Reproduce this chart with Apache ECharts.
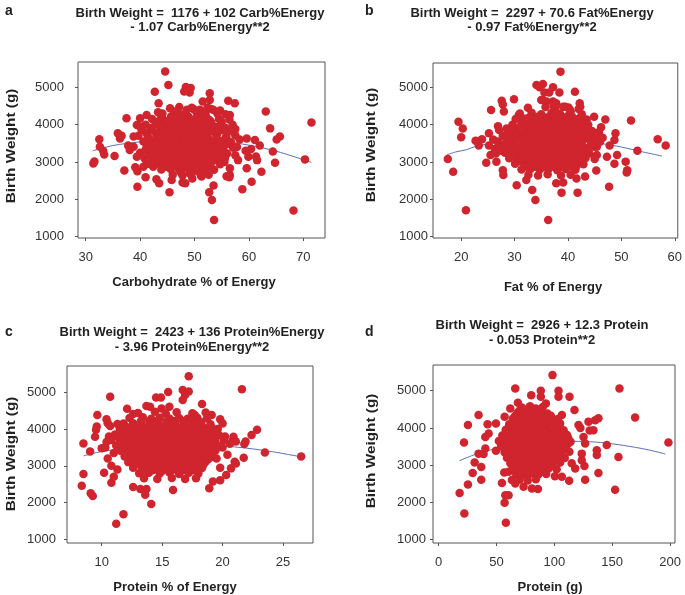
<!DOCTYPE html>
<html>
<head>
<meta charset="utf-8">
<script src="https://cdn.jsdelivr.net/npm/echarts@6/dist/echarts.min.js"></script>
<style>
  html, body { margin: 0; padding: 0; background: #fff; }
  #chart { width: 685px; height: 595px; }
</style>
</head>
<body>
<div id="chart"></div>
<script>
// ---- panel a: carbohydrate % of energy vs birth weight ----
const carbPoints = [
  [44.6,5420],[45.2,5060],[42.7,4880],[48.4,5010],[49.3,4980],[48.1,4890],[49.1,4860],[48.7,4950],
  [51.5,4620],[52.8,4840],[52.8,4660],[56.2,4640],[57.4,4570],[43.4,4570],[37.5,4170],[63.1,4350],
  [63.9,3900],[71.5,4060],[65.7,3680],[65.1,3600],[70.3,3070],[68.2,1700],[53.6,1450],[53.2,1980],
  [52.7,2190],[53.5,2370],[45.4,2190],[39.5,2340],[58.8,2270],[60.5,2470],[62.3,2740],[64.8,2980],
  [64.4,3280],[62.0,3440],[61.1,3590],[59.6,3630],[59.6,2830],[56.5,2650],[56.4,2590],[31.4,2960],
  [31.6,3010],[32.5,3610],[32.6,3410],[33.2,3300],[33.4,3200],[35.3,3160],[35.9,3770],[36.3,3630],
  [36.6,3700],[37.1,2770],[37.8,3440],[38.1,3320],[38.8,3680],[39.1,2860],[39.5,2750],[41.0,2590],
  [43.0,2540],[43.5,2430],[45.8,2520],[47.8,2450],[48.3,2430],[49.6,2560],[51.3,2610],[55.9,2620],
  [40.0,4170],[41.2,4260],[39.4,3990],[43.3,4330],[49.5,4450],[51.0,4400],[53.5,4390],[54.7,4380],
  [56.5,4260],[57.5,3880],[58.3,3600],[57.8,3400],[59.4,3300],[60.4,3350],[61.3,3150],[61.5,3050],
  [57.5,3180],[58.0,3050],[59.9,3140],[56.5,2830],[55.5,3000],[52.5,2870],[40.0,3950],[38.8,3410],
  [39.4,3140],[40.6,2870],[41.2,2960],[42.4,2870],[42.1,3230],
  [45.5,4440],[47.2,4470],[49.8,4420],[52.4,4460],[53.1,4420],
  [44.1,4300],[46.3,4320],[48.0,4280],[50.6,4310],[52.0,4290],[54.2,4300],[55.7,4280],
  [42.2,4150],[43.8,4160],[45.6,4130],[47.4,4170],[49.3,4140],[51.0,4160],[52.7,4130],[54.5,4150],[56.4,4140],
  [41.0,4000],[42.9,4010],[44.6,3990],[46.2,4020],[47.9,3980],[49.5,4010],[51.2,3990],[52.9,4020],[54.8,3990],[57.0,4000],
  [40.3,3850],[42.0,3860],[43.7,3840],[45.3,3870],[46.8,3830],[48.4,3860],[50.0,3840],[51.6,3870],[53.3,3840],[55.1,3860],[56.6,3830],
  [39.7,3700],[41.4,3710],[43.0,3690],[44.6,3720],[46.1,3680],[47.6,3710],[49.1,3690],[50.7,3720],[52.3,3690],[54.0,3710],[55.8,3680],[57.5,3710],
  [40.6,3550],[42.3,3560],[43.9,3540],[45.4,3570],[46.9,3530],[48.5,3560],[50.1,3540],[51.7,3570],[53.2,3540],[54.9,3560],[56.7,3530],
  [41.2,3400],[42.8,3410],[44.3,3390],[45.8,3420],[47.3,3380],[48.8,3410],[50.4,3390],[51.9,3420],[53.6,3390],[55.3,3410],[57.1,3380],
  [40.0,3250],[41.7,3260],[43.4,3240],[45.0,3270],[46.5,3230],[48.1,3260],[49.7,3240],[51.3,3270],[52.8,3240],[54.4,3260],[56.0,3230],
  [40.8,3100],[42.5,3110],[44.2,3090],[45.9,3120],[47.5,3080],[49.0,3110],[50.6,3090],[52.2,3120],[53.9,3090],[55.6,3110],
  [41.6,2950],[43.3,2960],[45.1,2940],[46.7,2970],[48.3,2930],[49.9,2960],[51.5,2940],[53.0,2970],[54.7,2940],
  [43.9,2800],[45.6,2810],[47.2,2790],[48.9,2820],[50.4,2780],[52.0,2810],[53.6,2790],
  [46.0,2660],[47.8,2640],[49.4,2670],[51.2,2640],[52.6,2660],
  [43.0,4070],[44.7,4080],[46.4,4060],[48.1,4090],[49.8,4070],[51.4,4080],[53.1,4060],[55.0,4080],
  [42.1,3920],[43.8,3930],[45.5,3910],[47.1,3940],[48.8,3920],[50.4,3930],[52.1,3910],[53.8,3940],[55.6,3920],
  [41.2,3770],[42.9,3780],[44.5,3760],[46.0,3790],[47.6,3770],[49.2,3780],[50.8,3760],[52.4,3790],[54.2,3770],[56.0,3780],
  [41.5,3620],[43.2,3630],[44.8,3610],[46.3,3640],[47.8,3620],[49.3,3630],[50.9,3610],[52.5,3640],[54.1,3620],[55.9,3630],
  [42.0,3470],[43.6,3480],[45.1,3460],[46.6,3490],[48.1,3470],[49.6,3480],[51.1,3460],[52.7,3490],[54.4,3470],[56.2,3480],
  [41.0,3320],[42.6,3330],[44.2,3310],[45.7,3340],[47.2,3320],[48.8,3330],[50.4,3310],[52.0,3340],[53.6,3320],[55.3,3330],
  [41.8,3170],[43.5,3180],[45.1,3160],[46.7,3190],[48.3,3170],[49.9,3180],[51.5,3160],[53.1,3190],[54.8,3170],
  [43.0,3020],[44.8,3030],[46.4,3010],[48.0,3040],[49.6,3020],[51.2,3030],[52.8,3010],[54.3,3030],
  [44.8,2870],[46.5,2880],[48.1,2860],[49.7,2890],[51.3,2870],[52.9,2880],
  [44.0,4230],[45.7,4220],[47.3,4240],[48.9,4210],[50.5,4230],[52.1,4220],
  [44.0,3960],[45.7,3950],[47.3,3970],[48.9,3940],[50.5,3960],[52.1,3950],
  [44.0,3690],[45.7,3680],[47.3,3700],[48.9,3670],[50.5,3690],[52.1,3680],
  [44.0,3420],[45.7,3410],[47.3,3430],[48.9,3400],[50.5,3420],[52.1,3410],
  [44.0,3150],[45.7,3140],[47.3,3160],[48.9,3130],[50.5,3150],[52.1,3140],
  [44.0,2880],[45.7,2870],[47.3,2890],[48.9,2860],[50.5,2880],[52.1,2870],
  [44.9,4100],[46.5,4090],[48.1,4110],[49.7,4080],[51.3,4100],[52.9,4090],
  [44.9,3830],[46.5,3820],[48.1,3840],[49.7,3810],[51.3,3830],[52.9,3820],
  [44.9,3560],[46.5,3550],[48.1,3570],[49.7,3540],[51.3,3560],[52.9,3550],
  [44.9,3290],[46.5,3280],[48.1,3300],[49.7,3270],[51.3,3290],[52.9,3280],
  [44.9,3020],[46.5,3010],[48.1,3030],[49.7,3000],[51.3,3020],[52.9,3010],
  [46.8,4380],[48.6,4400],[50.2,4370],[47.5,2720],[49.1,2700],[50.8,2730]
];
const carbFit = [[31.3,3300],[35,3440],[40,3540],[45,3600],[50,3610],[55,3560],[60,3450],[65,3290],[71.5,2990]];

// ---- panel b: fat % of energy ----
const fatPoints = [
  [17.5,3080],[18.5,2740],[19.5,4080],[20.3,3900],[20.0,3660],[20.9,1710],[22.7,3570],[23.3,3440],
  [23.9,3610],[24.7,2980],[25.2,3440],[25.5,3190],[25.6,4390],[26.5,3230],[26.6,3010],[26.9,3960],
  [27.6,4640],[27.8,4540],[28.0,4350],[27.8,2780],[27.9,2650],[28.5,3900],[28.8,3810],[29.9,4680],
  [30.4,2380],[30.8,4260],[32.2,2520],[33.3,2250],[33.9,1980],[34.1,5060],[34.7,5000],[35.3,5090],
  [35.6,4860],[36.5,4860],[37.2,5000],[38.4,4860],[38.6,5420],[36.3,1450],[35.0,4660],[37.2,4620],
  [41.3,4880],[42.2,4570],[42.3,4480],[37.8,2430],[39.1,2450],[38.8,2180],[41.8,2180],[41.6,2560],
  [43.2,2610],[45.3,2770],[47.7,2340],[44.9,4210],[47.0,4140],[46.2,3930],[48.9,3770],[48.7,3590],
  [49.2,3190],[47.3,3140],[45.4,3410],[47.8,3440],[50.8,3010],[51.1,2780],[51.0,2720],[51.8,4110],
  [53.0,3300],[56.8,3610],[58.3,3440],[48.7,2950],[44.1,3680],[45.4,3190],[46.5,3650],[45.8,3800],
  [36.0,4620],[37.3,4500],[39.5,4480],[40.5,4350],[35.3,4660],[37.8,4570],[39.1,4480],[40.4,4390],
  [25.2,3770],[26.0,3600],[27.0,3500],[27.5,3300],[26.3,3350],[27.1,3860],
  [32.5,4450],[35.8,4470],[37.6,4430],[40.1,4460],[42.0,4420],
  [31.0,4300],[33.2,4320],[35.0,4280],[36.9,4310],[38.5,4290],[40.3,4300],[42.6,4280],
  [30.2,4150],[31.9,4160],[33.6,4130],[35.3,4170],[37.0,4140],[38.6,4160],[40.2,4130],[41.9,4150],[43.5,4140],
  [29.6,4000],[31.3,4010],[32.8,3990],[34.4,4020],[35.9,3980],[37.5,4010],[39.0,3990],[40.6,4020],[42.2,3990],[43.8,4000],
  [28.8,3850],[30.4,3860],[32.0,3840],[33.5,3870],[35.0,3830],[36.6,3860],[38.1,3840],[39.7,3870],[41.3,3840],[42.9,3860],[44.5,3830],
  [27.8,3700],[29.5,3710],[31.1,3690],[32.6,3720],[34.2,3680],[35.7,3710],[37.3,3690],[38.8,3720],[40.4,3690],[42.0,3710],[43.7,3680],[45.5,3710],
  [26.9,3550],[28.5,3560],[30.0,3540],[31.6,3570],[33.1,3530],[34.7,3560],[36.2,3540],[37.8,3570],[39.3,3540],[40.9,3560],[42.5,3530],[44.2,3560],[46.0,3540],
  [27.5,3400],[29.1,3410],[30.6,3390],[32.2,3420],[33.7,3380],[35.3,3410],[36.8,3390],[38.4,3420],[39.9,3390],[41.5,3410],[43.1,3380],[44.8,3410],
  [28.2,3250],[29.8,3260],[31.4,3240],[32.9,3270],[34.5,3230],[36.0,3260],[37.6,3240],[39.1,3270],[40.7,3240],[42.3,3260],[44.0,3230],
  [29.0,3100],[30.7,3110],[32.3,3090],[33.8,3120],[35.4,3080],[36.9,3110],[38.5,3090],[40.0,3120],[41.6,3090],[43.3,3110],[45.0,3080],
  [30.1,2950],[31.8,2960],[33.4,2940],[35.0,2970],[36.5,2930],[38.1,2960],[39.6,2940],[41.2,2970],[42.9,2940],
  [31.3,2800],[33.0,2810],[34.7,2790],[36.4,2820],[38.0,2780],[39.6,2810],[41.4,2790],
  [32.6,2660],[34.4,2640],[36.2,2670],[38.7,2640],[40.5,2660],
  [31.5,4070],[33.1,4080],[34.7,4060],[36.3,4090],[37.9,4070],[39.5,4080],[41.1,4060],[42.7,4080],
  [30.5,3920],[32.1,3930],[33.7,3910],[35.3,3940],[36.9,3920],[38.5,3930],[40.1,3910],[41.7,3940],[43.3,3920],
  [29.6,3770],[31.2,3780],[32.8,3760],[34.4,3790],[36.0,3770],[37.6,3780],[39.2,3760],[40.8,3790],[42.4,3770],[44.0,3780],
  [28.7,3620],[30.3,3630],[31.9,3610],[33.5,3640],[35.1,3620],[36.7,3630],[38.3,3610],[39.9,3640],[41.5,3620],[43.1,3630],[44.8,3610],
  [28.2,3470],[29.8,3480],[31.4,3460],[33.0,3490],[34.6,3470],[36.2,3480],[37.8,3460],[39.4,3490],[41.0,3470],[42.6,3480],[44.3,3460],
  [28.9,3320],[30.5,3330],[32.1,3310],[33.7,3340],[35.3,3320],[36.9,3330],[38.5,3310],[40.1,3340],[41.7,3320],[43.4,3330],
  [29.9,3170],[31.5,3180],[33.1,3160],[34.7,3190],[36.3,3170],[37.9,3180],[39.5,3160],[41.1,3190],[42.8,3170],
  [31.0,3020],[32.7,3030],[34.3,3010],[35.9,3040],[37.5,3020],[39.1,3030],[40.7,3010],[42.3,3030],
  [32.3,2870],[34.0,2880],[35.7,2860],[37.3,2890],[38.9,2870],[40.6,2880],
  [32.8,4200],[34.4,4210],[36.0,4190],[37.6,4220],[39.2,4200],[40.8,4210],[42.4,4190],
  [32.8,3930],[34.4,3940],[36.0,3920],[37.6,3950],[39.2,3930],[40.8,3940],[42.4,3920],
  [32.8,3660],[34.4,3670],[36.0,3650],[37.6,3680],[39.2,3660],[40.8,3670],[42.4,3650],
  [32.8,3390],[34.4,3400],[36.0,3380],[37.6,3410],[39.2,3390],[40.8,3400],[42.4,3380],
  [32.8,3120],[34.4,3130],[36.0,3110],[37.6,3140],[39.2,3120],[40.8,3130],[42.4,3110],
  [33.6,2880],[35.2,2890],[36.8,2870],[38.4,2900],[40.0,2880],[41.6,2890],
  [33.6,4060],[35.2,4070],[36.8,4050],[38.4,4080],[40.0,4060],[41.6,4070],
  [33.6,3790],[35.2,3800],[36.8,3780],[38.4,3810],[40.0,3790],[41.6,3800],
  [33.6,3520],[35.2,3530],[36.8,3510],[38.4,3540],[40.0,3520],[41.6,3530],
  [33.6,3250],[35.2,3260],[36.8,3240],[38.4,3270],[40.0,3250],[41.6,3260],
  [33.6,3000],[35.2,3010],[36.8,2990],[38.4,3020],[40.0,3000],[41.6,3010]
];
const fatFit = [[17.3,3190],[19,3270],[21,3330],[23,3430],[27,3520],[32,3570],[37,3580],[42,3560],[46,3500],[50,3400],[54,3270],[57.6,3160]];

// ---- panel c: protein % of energy ----
const protPctPoints = [
  [8.35,2460],[8.49,2780],[8.49,3610],[9.04,3390],[9.09,2250],[9.26,2180],[9.45,3790],[9.53,3980],
  [9.59,4070],[9.64,4380],[10.0,3480],[10.2,2810],[10.4,4270],[10.5,4160],[10.7,4880],[10.7,4080],
  [10.8,2540],[11.2,1420],[11.8,1680],[11.3,4140],[12.1,4550],[12.6,4410],[12.6,2420],[13.2,2370],
  [13.6,2210],[13.7,2370],[14.1,1960],[13.7,4630],[14.0,4610],[14.5,4860],[14.9,4860],[15.5,5010],
  [14.95,4560],[15.6,4610],[15.9,2340],[16.7,5060],[16.9,4930],[17.2,5020],[17.2,5440],[16.7,4790],
  [18.3,4680],[17.7,4380],[18.9,2390],[19.2,2570],[19.1,4380],[19.8,4270],[19.8,2610],[20.3,2750],
  [20.7,2930],[21.0,3110],[21.1,3060],[20.9,3790],[20.8,3670],[21.1,3660],[21.8,3590],[21.9,3660],
  [21.75,3220],[21.6,5080],[22.4,3840],[22.85,3980],[23.5,3360],[26.5,3250],[19.2,3520],
  [10.3,3500],[10.5,3200],[10.8,3000],[11.0,3350],[10.6,3800],[10.4,3650],[11.3,2900],[11.0,2700],
  [19.5,3200],[20.0,3500],[20.4,3300],[19.8,2950],[20.2,3800],[20.6,3600],[19.6,4000],[20.0,4150],
  [13.0,4440],[14.4,4470],[15.3,4420],[16.2,4460],[17.5,4430],[18.6,4450],
  [12.3,4300],[13.4,4320],[14.1,4280],[14.8,4310],[15.6,4290],[16.4,4300],[17.1,4280],[17.9,4310],[18.7,4290],
  [11.8,4150],[12.6,4160],[13.3,4130],[14.0,4170],[14.7,4140],[15.4,4160],[16.1,4130],[16.8,4150],[17.5,4140],[18.2,4160],[19.0,4130],
  [11.5,4000],[12.2,4010],[12.9,3990],[13.6,4020],[14.3,3980],[15.0,4010],[15.7,3990],[16.4,4020],[17.1,3990],[17.8,4000],[18.5,4010],[19.3,3990],
  [11.1,3850],[11.9,3860],[12.6,3840],[13.3,3870],[14.0,3830],[14.7,3860],[15.4,3840],[16.1,3870],[16.8,3840],[17.5,3860],[18.2,3830],[18.9,3860],[19.7,3840],
  [10.8,3700],[11.6,3710],[12.3,3690],[13.0,3720],[13.7,3680],[14.4,3710],[15.1,3690],[15.8,3720],[16.5,3690],[17.2,3710],[17.9,3680],[18.6,3710],[19.4,3690],[20.1,3700],
  [11.2,3550],[12.0,3560],[12.7,3540],[13.4,3570],[14.1,3530],[14.8,3560],[15.5,3540],[16.2,3570],[16.9,3540],[17.6,3560],[18.3,3530],[19.0,3560],[19.8,3540],
  [11.6,3400],[12.3,3410],[13.0,3390],[13.7,3420],[14.4,3380],[15.1,3410],[15.8,3390],[16.5,3420],[17.2,3390],[17.9,3410],[18.6,3380],[19.4,3410],
  [11.9,3250],[12.6,3260],[13.3,3240],[14.0,3270],[14.7,3230],[15.4,3260],[16.1,3240],[16.8,3270],[17.5,3240],[18.2,3260],[19.0,3230],
  [12.2,3100],[12.9,3110],[13.6,3090],[14.3,3120],[15.0,3080],[15.7,3110],[16.4,3090],[17.1,3120],[17.8,3090],[18.6,3110],
  [12.6,2950],[13.3,2960],[14.0,2940],[14.7,2970],[15.4,2930],[16.1,2960],[16.8,2940],[17.5,2970],[18.3,2940],
  [13.1,2800],[13.9,2810],[14.8,2790],[15.6,2820],[16.4,2780],[17.2,2810],[18.0,2790],
  [13.5,2660],[14.6,2640],[15.8,2670],[16.9,2640],[17.8,2660],
  [12.0,4070],[12.7,4080],[13.4,4060],[14.1,4090],[14.8,4070],[15.5,4080],[16.2,4060],[16.9,4090],[17.6,4070],[18.3,4080],[19.0,4060],
  [11.6,3920],[12.3,3930],[13.0,3910],[13.7,3940],[14.4,3920],[15.1,3930],[15.8,3910],[16.5,3940],[17.2,3920],[17.9,3930],[18.6,3910],[19.3,3930],
  [11.4,3770],[12.1,3780],[12.8,3760],[13.5,3790],[14.2,3770],[14.9,3780],[15.6,3760],[16.3,3790],[17.0,3770],[17.7,3780],[18.4,3760],[19.1,3780],
  [11.5,3620],[12.2,3630],[12.9,3610],[13.6,3640],[14.3,3620],[15.0,3630],[15.7,3610],[16.4,3640],[17.1,3620],[17.8,3630],[18.5,3610],[19.2,3630],
  [11.8,3470],[12.5,3480],[13.2,3460],[13.9,3490],[14.6,3470],[15.3,3480],[16.0,3460],[16.7,3490],[17.4,3470],[18.1,3480],[18.8,3460],[19.5,3480],
  [12.0,3320],[12.7,3330],[13.4,3310],[14.1,3340],[14.8,3320],[15.5,3330],[16.2,3310],[16.9,3340],[17.6,3320],[18.3,3330],[19.1,3310],
  [12.4,3170],[13.1,3180],[13.8,3160],[14.5,3190],[15.2,3170],[15.9,3180],[16.6,3160],[17.3,3190],[18.0,3170],[18.8,3180],
  [12.7,3020],[13.4,3030],[14.1,3010],[14.8,3040],[15.5,3020],[16.2,3030],[16.9,3010],[17.6,3040],[18.4,3020],
  [13.4,2870],[14.2,2880],[15.0,2860],[15.9,2890],[16.7,2870],[17.5,2880],
  [13.25,4220],[13.95,4210],[14.65,4230],[15.35,4200],[16.05,4220],[16.75,4210],[17.45,4230],[18.15,4200],
  [13.25,3950],[13.95,3940],[14.65,3960],[15.35,3930],[16.05,3950],[16.75,3940],[17.45,3960],[18.15,3930],
  [13.25,3680],[13.95,3670],[14.65,3690],[15.35,3660],[16.05,3680],[16.75,3670],[17.45,3690],[18.15,3660],
  [13.25,3410],[13.95,3400],[14.65,3420],[15.35,3390],[16.05,3410],[16.75,3400],[17.45,3420],[18.15,3390],
  [13.25,3140],[13.95,3130],[14.65,3150],[15.35,3120],[16.05,3140],[16.75,3130],[17.45,3150],[18.15,3120],
  [13.6,2900],[14.3,2890],[15.0,2910],[15.7,2880],[16.4,2900],[17.1,2890],[17.8,2910]
];
const protPctFit = [[8.5,3270],[10,3390],[12,3470],[14,3540],[16,3570],[18,3570],[20,3540],[22,3480],[24,3390],[26.4,3250]];

// ---- panel d: protein (g) ----
const protGramPoints = [
  [18.1,2250],[22.2,1700],[21.9,3610],[25.3,2480],[25.3,4080],[29.4,2790],[31.1,3070],[34.5,4350],
  [34.5,3310],[36.8,2610],[36.8,2950],[38.8,3300],[40.3,3450],[42.3,4100],[40.3,3760],[43.2,3850],
  [49.5,3390],[49.5,4120],[54.7,2520],[57.0,1990],[57.6,2190],[60.4,2190],[58.1,1450],[56.7,2800],
  [57.0,4300],[61.9,4520],[66.2,5060],[68.5,4680],[60.4,2820],[63.3,2600],[66.2,2510],[73.4,2420],
  [80.6,2370],[85.8,2360],[80.0,4880],[88.3,5000],[88.3,4840],[98.4,5420],[103.6,5000],[103.6,4840],
  [113.1,4840],[92.7,4660],[117.4,4480],[106.5,4350],[106.5,2690],[100.5,2700],[112.8,2580],[126.6,2610],
  [120.9,4080],[122.5,4000],[129.5,4170],[135.3,4210],[138.1,4260],[133.8,3940],[130.5,3930],[125.2,3760],
  [126.6,3580],[136.7,3400],[136.7,3270],[138.1,2790],[145.3,3540],[152.5,2340],[155.4,3220],[156.3,5060],
  [169.8,4280],[198.6,3610],[123.7,3310],[123.7,3130],[126.0,2980],[118.0,2910],[115.0,3050],
  [72,4550],[79,4580],[84,4520],[90,4560],
  [68,4400],[75,4420],[81,4380],[87,4410],[94,4390],
  [64,4250],[70,4260],[77,4240],[83,4270],[89,4230],[96,4260],[103,4240],
  [61,4100],[67,4110],[73,4090],[79,4120],[85,4080],[92,4110],[98,4090],[105,4120],
  [58,3950],[64,3960],[70,3940],[76,3970],[82,3930],[88,3960],[95,3940],[101,3970],[108,3940],
  [55,3800],[61,3810],[67,3790],[73,3820],[79,3780],[85,3810],[91,3790],[98,3820],[104,3790],[111,3810],
  [52,3650],[58,3660],[64,3640],[70,3670],[76,3630],[82,3660],[88,3640],[94,3670],[101,3640],[107,3660],[114,3630],
  [54,3500],[60,3510],[66,3490],[72,3520],[78,3480],[84,3510],[90,3490],[97,3520],[103,3490],[110,3510],
  [57,3350],[63,3360],[69,3340],[75,3370],[81,3330],[87,3360],[93,3340],[99,3370],[106,3340],[113,3360],
  [59,3200],[65,3210],[71,3190],[77,3220],[83,3180],[89,3210],[95,3190],[102,3220],[109,3190],
  [62,3050],[68,3060],[74,3040],[80,3070],[86,3030],[92,3060],[98,3040],[105,3070],
  [64,2900],[70,2910],[76,2890],[82,2920],[88,2880],[95,2910],[102,2890],
  [67,2760],[73,2740],[79,2770],[86,2740],[93,2760],
  [70,2610],[77,2590],[84,2620],
  [70,4470],[76,4480],[82,4460],[88,4490],
  [66,4320],[72,4330],[78,4310],[84,4340],[91,4320],[97,4330],
  [64,4170],[70,4180],[76,4160],[82,4190],[88,4170],[95,4180],[101,4160],
  [61,4020],[67,4030],[73,4010],[79,4040],[85,4020],[91,4030],[98,4010],[104,4030],
  [58,3870],[64,3880],[70,3860],[76,3890],[82,3870],[88,3880],[95,3860],[101,3890],[107,3870],
  [56,3720],[62,3730],[68,3710],[74,3740],[80,3720],[86,3730],[92,3710],[99,3740],[105,3720],[112,3730],
  [57,3570],[63,3580],[69,3560],[75,3590],[81,3570],[87,3580],[93,3560],[100,3590],[106,3570],[112,3580],
  [58,3420],[64,3430],[70,3410],[76,3440],[82,3420],[88,3430],[95,3410],[101,3440],[108,3420],
  [61,3270],[67,3280],[73,3260],[79,3290],[85,3270],[91,3280],[98,3260],[105,3280],
  [63,3120],[69,3130],[75,3110],[81,3140],[87,3120],[94,3130],[100,3110],
  [66,2970],[72,2980],[78,2960],[84,2990],[91,2970],[98,2980],
  [70,2820],[76,2830],[82,2810],[89,2830]
];
const protGramFit = [[18,3120],[30,3270],[45,3410],[60,3510],[80,3590],[100,3630],[120,3640],[140,3610],[160,3530],[180,3420],[196,3300]];

// tick labels
const carbTicks = [30, 40, 50, 60, 70];
const fatTicks = [20, 30, 40, 50, 60];
const protPctTicks = [10, 15, 20, 25];
const protGramTicks = [0, 50, 100, 150, 200];
const weightTicks = [1000, 2000, 3000, 4000, 5000];

const FONT = 'Liberation Sans, Arial, Helvetica, sans-serif';
const DOT = '#d0252e';
const FIT = '#5a6fb8';
const BOX = '#555';

const panels = [
  { pts: carbPoints, fit: carbFit, ticks: carbTicks, grid: { left: 78, top: 62, width: 247, height: 176 },
    x: [28.58, 73.99], y: [965, 5677], yMargin: 14 },
  { pts: fatPoints, fit: fatFit, ticks: fatTicks, grid: { left: 433, top: 63, width: 246, height: 175 },
    x: [14.73, 60.56], y: [965, 5651], yMargin: 5 },
  { pts: protPctPoints, fit: protPctFit, ticks: protPctTicks, grid: { left: 67, top: 366, width: 246, height: 177 },
    x: [7.13, 27.48], y: [899, 5716], yMargin: 11 },
  { pts: protGramPoints, fit: protGramFit, ticks: protGramTicks, grid: { left: 433, top: 365, width: 242, height: 178 },
    x: [-4.9, 204.3], y: [908, 5692], yMargin: 7 }
];

const text = (t, x, y, opts = {}) => ({
  type: 'text', x, y, rotation: opts.rotation || 0, scaleX: opts.scaleX || 1,
  style: {
    text: t, fill: '#222', align: opts.align || 'center', verticalAlign: 'middle',
    font: (opts.weight || 'bold') + ' ' + (opts.size || 13) + 'px ' + FONT
  }
});

const yTitle = { rotation: Math.PI / 2, scaleX: 1.18 };

const graphics = [
  text('a', 5, 11, { align: 'left', size: 14 }),
  text('b', 365, 11, { align: 'left', size: 14 }),
  text('c', 5, 332, { align: 'left', size: 14 }),
  text('d', 365, 332, { align: 'left', size: 14 }),
  text('Birth Weight =  1176 + 102 Carb%Energy', 200, 13),
  text('- 1.07 Carb%Energy**2', 200, 27),
  text('Birth Weight =  2297 + 70.6 Fat%Energy', 532, 13),
  text('- 0.97 Fat%Energy**2', 532, 27),
  text('Birth Weight =  2423 + 136 Protein%Energy', 192, 332),
  text('- 3.96 Protein%Energy**2', 192, 347),
  text('Birth Weight =  2926 + 12.3 Protein', 542, 325),
  text('- 0.053 Protein**2', 542, 340),
  text('Carbohydrate % of Energy', 194, 282),
  text('Fat % of Energy', 553, 287),
  text('Protein % of Energy', 175, 587),
  text('Protein (g)', 550, 587),
  text('Birth Weight (g)', 11, 146, yTitle),
  text('Birth Weight (g)', 371, 145, yTitle),
  text('Birth Weight (g)', 11, 454, yTitle),
  text('Birth Weight (g)', 371, 451, yTitle)
];

const chart = echarts.init(document.getElementById('chart'), null, { renderer: 'canvas' });

const option = {
  backgroundColor: '#fff',
  animation: false,
  graphic: graphics,
  grid: panels.map((p) => ({ ...p.grid, show: true, borderColor: BOX, borderWidth: 1, containLabel: false })),
  xAxis: panels.map((p, i) => ({
    type: 'value', gridIndex: i, min: p.x[0], max: p.x[1],
    axisLine: { show: false, onZero: false },
    axisTick: { show: true, length: 3, lineStyle: { color: BOX }, customValues: p.ticks },
    axisLabel: { margin: 13, color: '#333', fontSize: 13, fontFamily: FONT, customValues: p.ticks,
      formatter: (v) => String(v) },
    splitLine: { show: false }
  })),
  yAxis: panels.map((p, i) => ({
    type: 'value', gridIndex: i, min: p.y[0], max: p.y[1],
    axisLine: { show: false, onZero: false },
    axisTick: { show: true, length: 3, lineStyle: { color: BOX }, customValues: weightTicks },
    axisLabel: { margin: p.yMargin, color: '#333', fontSize: 13, fontFamily: FONT, customValues: weightTicks,
      formatter: (v) => String(v) },
    splitLine: { show: false }
  })),
  series: panels.flatMap((p, i) => [
    {
      type: 'line', xAxisIndex: i, yAxisIndex: i, data: p.fit, smooth: 0.3,
      showSymbol: false, lineStyle: { color: FIT, width: 1 }, z: 1, silent: true
    },
    {
      type: 'scatter', xAxisIndex: i, yAxisIndex: i, data: p.pts,
      symbol: 'circle', symbolSize: 8.5, itemStyle: { color: DOT, opacity: 1 }, z: 2, silent: true
    }
  ])
};

chart.setOption(option);
window.addEventListener('resize', chart.resize);
</script>
</body>
</html>
